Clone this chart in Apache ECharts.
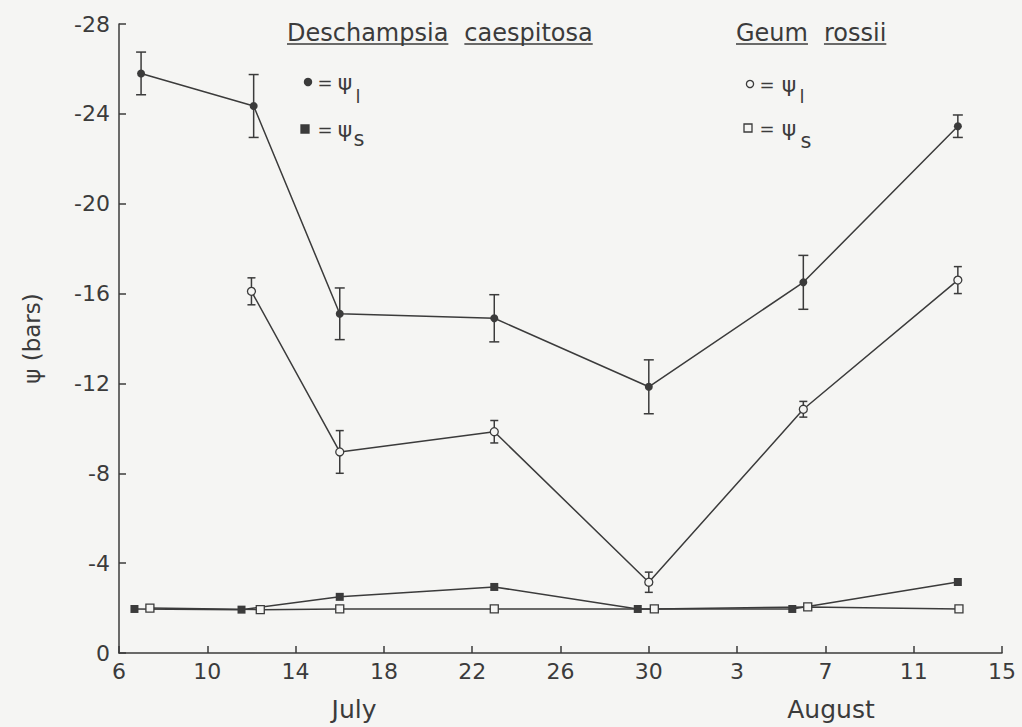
<!DOCTYPE html>
<html>
<head>
<meta charset="utf-8">
<script src="https://cdn.jsdelivr.net/npm/echarts@6/dist/echarts.min.js"></script>
<style>
html,body{margin:0;padding:0;background:#f5f5f3;}
#chart{width:1022px;height:727px;}
</style>
</head>
<body>
<div id="chart"></div>
<script>
// ---- Data (days given as day-of-July; August n = 31 + n) ----
const xTickLabels = ['6','10','14','18','22','26','30','3','7','11','15'];
const yTickValues = [-28,-24,-20,-16,-12,-8,-4,0];

const deschLDays = [7, 12.1, 16, 23, 30, 37, 44];
const deschLVals = [-25.8, -24.35, -15.1, -14.9, -11.85, -16.5, -23.45];
const deschLErr  = [0.95, 1.4, 1.15, 1.05, 1.2, 1.2, 0.5];

const geumLDays = [12, 16, 23, 30, 37, 44];
const geumLVals = [-16.1, -8.95, -9.85, -3.15, -10.85, -16.6];
const geumLErr  = [0.6, 0.95, 0.5, 0.45, 0.35, 0.6];

const deschSDays = [6.7, 11.55, 16, 23, 29.5, 36.5, 44];
const deschSVals = [-1.96, -1.93, -2.5, -2.94, -1.96, -1.96, -3.16];

const geumSDays = [7.4, 12.4, 16, 23, 30.25, 37.2, 44.05];
const geumSVals = [-2.0, -1.93, -1.96, -1.96, -1.96, -2.05, -1.96];

const firstDay = 6; // axis starts at 6 July
// ---------------------------------------------------------------

const INK = '#3b3b3b';
const BG = '#f5f5f3';
const FONT = '"DejaVu Sans", sans-serif';

function pts(days, vals){ return days.map((d,i)=>[d-firstDay, vals[i]]); }
function errPts(days, vals, errs){ return days.map((d,i)=>[d-firstDay, vals[i], errs[i]]); }

function errRender(cap){
  return function(params, api){
    const x = api.value(0), y = api.value(1), e = api.value(2);
    const a = api.coord([x, y - e]);
    const b = api.coord([x, y + e]);
    const st = {stroke: INK, lineWidth: 1.5, fill: null};
    return {type:'group', children:[
      {type:'line', shape:{x1:a[0], y1:a[1], x2:b[0], y2:b[1]}, style: st},
      {type:'line', shape:{x1:a[0]-cap, y1:a[1], x2:a[0]+cap, y2:a[1]}, style: st},
      {type:'line', shape:{x1:b[0]-cap, y1:b[1], x2:b[0]+cap, y2:b[1]}, style: st}
    ]};
  };
}

function measure(text, font){
  const c = document.createElement('canvas').getContext('2d');
  c.font = font;
  return c.measureText(text).width;
}

const titleFont = '24px "DejaVu Sans"';
function titleWords(words, x0, yMid, yLine){
  const out = [];
  let x = x0;
  words.forEach(w=>{
    const wd = measure(w, titleFont);
    out.push({type:'text', style:{x:x, y:yMid, text:w, font:titleFont, fill:INK, textVerticalAlign:'middle'}});
    out.push({type:'line', shape:{x1:x, y1:yLine, x2:x+wd, y2:yLine}, style:{stroke:INK, lineWidth:1.5}});
    x += wd + 16;
  });
  return out;
}

function legendRow(sym, filled, sx, sy, eqX, psiX, sub, subX, subY, subSize){
  const items = [];
  if (sym === 'circle') {
    items.push({type:'circle', shape:{cx:sx, cy:sy, r:3.6}, style:{fill: filled?INK:BG, stroke:INK, lineWidth:1.3}});
  } else {
    items.push({type:'rect', shape:{x:sx-4, y:sy-4, width:8, height:8}, style:{fill: filled?INK:BG, stroke:INK, lineWidth:1.3}});
  }
  items.push({type:'text', style:{x:eqX, y:sy, text:'=', font:'18px "DejaVu Sans"', fill:INK, textAlign:'center', textVerticalAlign:'middle'}});
  items.push({type:'text', style:{x:psiX, y:sy, text:'ψ', font:'22px "DejaVu Sans"', fill:INK, textAlign:'center', textVerticalAlign:'middle'}});
  items.push({type:'text', style:{x:subX, y:subY, text:sub, font:subSize+'px "DejaVu Sans"', fill:INK, textAlign:'center', textVerticalAlign:'middle'}});
  return items;
}

const chart = echarts.init(document.getElementById('chart'), null, {renderer:'svg'});

const graphics = [].concat(
  titleWords(['Deschampsia','caespitosa'], 287, 33, 44),
  titleWords(['Geum','rossii'], 736, 33, 44),
  legendRow('circle', true, 308, 82, 325, 345, 'l', 358, 96, 18),
  legendRow('rect', true, 305, 129, 325, 345, 's', 359, 139, 21),
  legendRow('circle', false, 750, 84, 767, 789, 'l', 802, 96, 18),
  legendRow('rect', false, 748, 128, 767, 789, 's', 806, 141, 21),
  [
    {type:'text', style:{x:354, y:709, text:'July', font:'25px "DejaVu Sans"', fill:INK, textAlign:'center', textVerticalAlign:'middle'}},
    {type:'text', style:{x:831, y:709, text:'August', font:'25px "DejaVu Sans"', fill:INK, textAlign:'center', textVerticalAlign:'middle'}}
  ]
);

const option = {
  backgroundColor: BG,
  animation: false,
  grid: {left: 119, right: 20, top: 24, bottom: 74, containLabel: false},
  xAxis: {
    type: 'value', min: 0, max: 40, interval: 4,
    axisLine: {onZero: false, lineStyle: {color: INK, width: 1.5}},
    axisTick: {inside: true, length: 7, lineStyle: {color: INK, width: 1.5}},
    splitLine: {show: false},
    axisLabel: {
      margin: 7, color: INK, fontFamily: FONT, fontSize: 22,
      formatter: v => xTickLabels[Math.round(v/4)]
    }
  },
  yAxis: {
    type: 'value', min: -28, max: 0, interval: 4, inverse: true,
    name: 'ψ (bars)', nameLocation: 'middle', nameRotate: 90, nameGap: 76,
    nameTextStyle: {color: INK, fontFamily: FONT, fontSize: 23},
    axisLine: {lineStyle: {color: INK, width: 1.5}},
    axisTick: {inside: true, length: 7, lineStyle: {color: INK, width: 1.5}},
    splitLine: {show: false},
    axisLabel: {
      margin: 9, color: INK, fontFamily: FONT, fontSize: 22,
      formatter: v => (yTickValues.indexOf(v) >= 0 ? String(v) : '')
    }
  },
  graphic: graphics,
  series: [
    {
      name: 'Deschampsia ψl err', type: 'custom', z: 1,
      renderItem: errRender(5), data: errPts(deschLDays, deschLVals, deschLErr)
    },
    {
      name: 'Geum ψl err', type: 'custom', z: 1,
      renderItem: errRender(4), data: errPts(geumLDays, geumLVals, geumLErr)
    },
    {
      name: 'Deschampsia ψl', type: 'line', z: 3,
      data: pts(deschLDays, deschLVals),
      symbol: 'circle', symbolSize: 8,
      itemStyle: {color: INK},
      lineStyle: {color: INK, width: 1.5}
    },
    {
      name: 'Geum ψl', type: 'line', z: 3,
      data: pts(geumLDays, geumLVals),
      symbol: 'circle', symbolSize: 8,
      itemStyle: {color: BG, borderColor: INK, borderWidth: 1.3},
      lineStyle: {color: INK, width: 1.5}
    },
    {
      name: 'Deschampsia ψs', type: 'line', z: 3,
      data: pts(deschSDays, deschSVals),
      symbol: 'rect', symbolSize: 8,
      itemStyle: {color: INK},
      lineStyle: {color: INK, width: 1.5}
    },
    {
      name: 'Geum ψs', type: 'line', z: 4,
      data: pts(geumSDays, geumSVals),
      symbol: 'rect', symbolSize: 8,
      itemStyle: {color: BG, borderColor: INK, borderWidth: 1.3},
      lineStyle: {color: INK, width: 1.5}
    }
  ]
};

chart.setOption(option);
</script>
</body>
</html>
